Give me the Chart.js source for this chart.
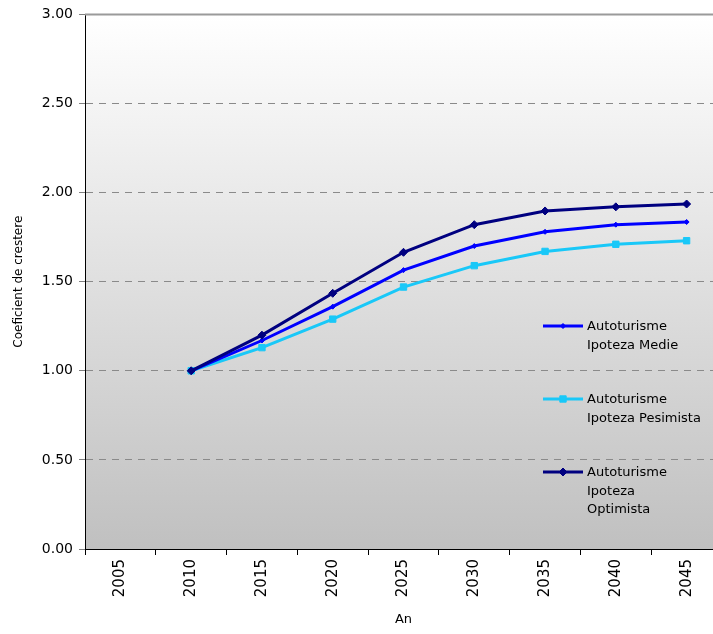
<!DOCTYPE html>
<html>
<head>
<meta charset="utf-8">
<title>Coeficient de crestere - Autoturisme</title>
<script src="https://cdn.jsdelivr.net/npm/chart.js@4/dist/chart.umd.min.js"></script>
<style>
  html, body { margin: 0; padding: 0; background: #ffffff; overflow: hidden; }
  #wrap { width: 713px; height: 634px; overflow: hidden; }
  canvas { display: block; }
</style>
</head>
<body>
<div id="wrap"><canvas id="chart" width="730" height="634"></canvas></div>
<script>
// Years on the horizontal axis
const years = ['2005', '2010', '2015', '2020', '2025', '2030', '2035', '2040', '2045'];

// Growth coefficient per scenario (no value for 2005)
const medie     = [null, 1.00, 1.17, 1.36, 1.565, 1.70, 1.78, 1.82, 1.835];
const pesimista = [null, 1.00, 1.13, 1.29, 1.47, 1.59, 1.67, 1.71, 1.73];
const optimista = [null, 1.00, 1.20, 1.435, 1.665, 1.82, 1.897, 1.92, 1.936];

// Series names, as shown in the legend (one entry per line)
const nameMedie     = ['Autoturisme', 'Ipoteza Medie'];
const namePesimista = ['Autoturisme', 'Ipoteza Pesimista'];
const nameOptimista = ['Autoturisme', 'Ipoteza', 'Optimista'];

// Y axis range
const yMin = 0, yMax = 3, yStep = 0.5;

const FONT = 'DejaVu Sans';

// Plot background: vertical white-to-grey gradient plus the solid top edge
const plotBackground = {
  id: 'plotBackground',
  beforeDraw(chart) {
    const { ctx, chartArea: a } = chart;
    ctx.save();
    const g = ctx.createLinearGradient(0, a.top, 0, a.bottom);
    g.addColorStop(0, '#ffffff');
    g.addColorStop(1, '#c0c0c0');
    ctx.fillStyle = g;
    ctx.fillRect(a.left, a.top, a.right - a.left, a.bottom - a.top);
    ctx.restore();
  },
  afterDraw(chart) {
    const { ctx, chartArea: a } = chart;
    ctx.save();
    ctx.strokeStyle = '#9a9a9a';
    ctx.lineWidth = 2;
    ctx.beginPath();
    ctx.moveTo(a.left, a.top);
    ctx.lineTo(a.right, a.top);
    ctx.stroke();
    ctx.restore();
  }
};

// Legend drawn inside the plot, with multi-line entries
const innerLegend = {
  id: 'innerLegend',
  afterDatasetsDraw(chart, args, opts) {
    const { ctx } = chart;
    ctx.save();
    chart.data.datasets.forEach((ds, i) => {
      const y = opts.rows[i];
      const x0 = opts.x, x1 = opts.x + opts.sampleWidth;
      ctx.strokeStyle = ds.borderColor;
      ctx.lineWidth = ds.borderWidth;
      ctx.beginPath();
      ctx.moveTo(x0, y);
      ctx.lineTo(x1, y);
      ctx.stroke();
      ctx.fillStyle = ds.pointBackgroundColor;
      ctx.strokeStyle = ds.pointBorderColor;
      ctx.lineWidth = 1;
      Chart.helpers.drawPoint(ctx, {
        pointStyle: ds.pointStyle, radius: ds.pointRadius, borderWidth: 1, rotation: 0
      }, (x0 + x1) / 2, y);
      ctx.fillStyle = '#000000';
      ctx.font = opts.fontSize + 'px "' + FONT + '"';
      ctx.textBaseline = 'middle';
      ctx.textAlign = 'left';
      ds.legendLines.forEach((t, k) => {
        ctx.fillText(t, x1 + opts.gap, y + 1 + k * opts.lineHeight);
      });
    });
    ctx.restore();
  }
};

const chart = new Chart(document.getElementById('chart'), {
  type: 'line',
  data: {
    labels: years,
    datasets: [
      {
        label: nameMedie.join(' '),
        legendLines: nameMedie,
        data: medie,
        borderColor: '#0000ff',
        backgroundColor: '#0000ff',
        pointBackgroundColor: '#0000ff',
        pointBorderColor: '#0000ff',
        pointStyle: 'rectRot',
        pointRadius: 2.5,
        pointBorderWidth: 1,
        borderWidth: 3,
        tension: 0,
        order: 1
      },
      {
        label: namePesimista.join(' '),
        legendLines: namePesimista,
        data: pesimista,
        borderColor: '#19c8f8',
        backgroundColor: '#19c8f8',
        pointBackgroundColor: '#19c8f8',
        pointBorderColor: '#19c8f8',
        pointStyle: 'rect',
        pointRadius: 4.5,
        pointBorderWidth: 1,
        borderWidth: 3,
        tension: 0,
        order: 2
      },
      {
        label: nameOptimista.join(' '),
        legendLines: nameOptimista,
        data: optimista,
        borderColor: '#000080',
        backgroundColor: '#000080',
        pointBackgroundColor: '#000080',
        pointBorderColor: '#000080',
        pointStyle: 'rectRot',
        pointRadius: 4,
        pointBorderWidth: 1,
        borderWidth: 3,
        tension: 0,
        order: 0
      }
    ]
  },
  options: {
    responsive: false,
    animation: false,
    events: [],
    spanGaps: false,
    layout: { padding: { left: 0, top: 13, right: 8, bottom: 3 } },
    plugins: {
      legend: { display: false },
      tooltip: { enabled: false },
      innerLegend: { x: 543, sampleWidth: 40, gap: 4, rows: [326, 399, 472], lineHeight: 18.5, fontSize: 13 }
    },
    scales: {
      x: {
        offset: true,
        grid: {
          offset: true,
          drawOnChartArea: false,
          drawTicks: true,
          tickLength: 6,
          tickColor: '#000000',
          tickWidth: 1
        },
        border: { display: true, color: '#000000', width: 1 },
        ticks: {
          minRotation: 90,
          maxRotation: 90,
          autoSkip: false,
          padding: 4,
          color: '#000000',
          font: { family: FONT, size: 15 }
        },
        title: {
          display: true,
          text: 'An',
          color: '#000000',
          font: { family: FONT, size: 13 },
          padding: { top: 4, bottom: 4 }
        },
        afterFit(scale) { scale.height = 82; }
      },
      y: {
        min: yMin,
        max: yMax,
        grid: {
          color: (ctx) => (ctx.tick && (ctx.tick.value === yMax || ctx.tick.value === yMin)) ? 'rgba(0,0,0,0)' : '#8a8a8a',
          lineWidth: 1,
          drawTicks: true,
          tickLength: 6,
          tickColor: '#808080'
        },
        border: { display: true, color: '#000000', width: 1, dash: [7, 6] },
        ticks: {
          stepSize: yStep,
          padding: 6,
          color: '#000000',
          font: { family: FONT, size: 14 },
          callback: (v) => Number(v).toFixed(2)
        },
        title: {
          display: true,
          text: 'Coeficient de crestere',
          color: '#000000',
          font: { family: FONT, size: 12 },
          padding: { top: 12, bottom: 0 }
        },
        afterFit(scale) { scale.width = 85; }
      }
    }
  },
  plugins: [plotBackground, innerLegend]
});
</script>
</body>
</html>
